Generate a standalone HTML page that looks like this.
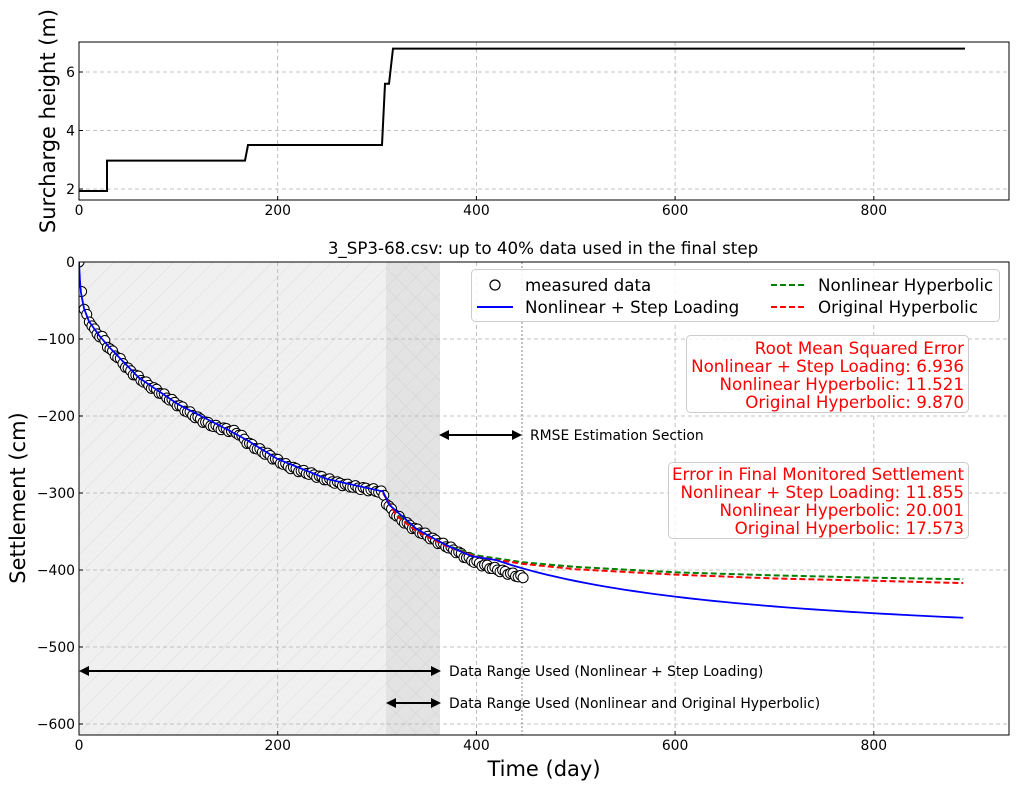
<!DOCTYPE html>
<html><head><meta charset="utf-8"><style>
html,body{margin:0;padding:0;background:#fff}
svg{display:block;font-family:"DejaVu Sans","Liberation Sans",sans-serif}
</style></head><body>
<svg id="s" width="1018" height="789" viewBox="0 0 1018 789" xmlns="http://www.w3.org/2000/svg">
<defs>
<pattern id="h1" width="14" height="14" patternUnits="userSpaceOnUse" patternTransform="rotate(45)">
<line x1="0" y1="0" x2="0" y2="14" stroke="#dcdcdc" stroke-width="1"/></pattern>
<pattern id="h2" width="14" height="14" patternUnits="userSpaceOnUse" patternTransform="rotate(45)">
<line x1="0" y1="0" x2="0" y2="14" stroke="#d2d2d2" stroke-width="1"/><line x1="0" y1="0" x2="14" y2="0" stroke="#d2d2d2" stroke-width="1"/></pattern>
<clipPath id="cb"><rect x="79" y="262" width="930" height="473"/></clipPath>
<clipPath id="ct"><rect x="79" y="42" width="930" height="158"/></clipPath>
</defs>
<g id="topgrid" stroke="#b0b0b0" stroke-dasharray="4,3" stroke-width="0.8"></g>
<polyline clip-path="url(#ct)" fill="none" stroke="#000" stroke-width="2" points="79,191 107,191 107,160.6 245,160.6 248,145 382,145 385,83.7 389,83.7 393,48.6 965,48.6"/>
<rect x="79" y="42" width="930" height="158" fill="none" stroke="#000" stroke-width="1"/>
<text x="0" y="0" transform="translate(55,121) rotate(-90)" text-anchor="middle" font-size="21">Surcharge height (m)</text>
<rect x="79" y="262" width="307" height="473" fill="#f0f0f0"/>
<rect x="79" y="262" width="307" height="473" fill="url(#h1)"/>
<rect x="386" y="262" width="54" height="473" fill="#e3e3e3"/>
<rect x="386" y="262" width="54" height="473" fill="url(#h2)"/>
<g id="botgrid" stroke="#b0b0b0" stroke-dasharray="4,3" stroke-width="0.8"></g>
<line x1="522" y1="262" x2="522" y2="735" stroke="#999" stroke-dasharray="2,2" stroke-width="1.2"/>
<g id="series" clip-path="url(#cb)"></g>
<rect x="79" y="262" width="930" height="473" fill="none" stroke="#000" stroke-width="1"/>
<text x="543" y="254" text-anchor="middle" font-size="16.7">3_SP3-68.csv: up to 40% data used in the final step</text>
<text x="0" y="0" transform="translate(25,498) rotate(-90)" text-anchor="middle" font-size="21">Settlement (cm)</text>
<text x="544" y="776" text-anchor="middle" font-size="21">Time (day)</text>
<rect x="471.5" y="269.5" width="528" height="52" rx="4" fill="#fff" fill-opacity="0.85" stroke="#ccc"/>
<circle cx="495" cy="285" r="5" fill="none" stroke="#000" stroke-width="1.2"/>
<text x="525" y="291" font-size="16.7">measured data</text>
<line x1="477" y1="307" x2="513" y2="307" stroke="#00f" stroke-width="2"/>
<text x="525" y="313" font-size="16.7">Nonlinear + Step Loading</text>
<line x1="771" y1="285" x2="807" y2="285" stroke="green" stroke-width="2" stroke-dasharray="6,3"/>
<text x="818" y="291" font-size="16.7">Nonlinear Hyperbolic</text>
<line x1="771" y1="307" x2="807" y2="307" stroke="red" stroke-width="2" stroke-dasharray="6,3"/>
<text x="818" y="313" font-size="16.7">Original Hyperbolic</text>
<rect x="686.5" y="335.5" width="282" height="77" rx="4" fill="#fff" fill-opacity="0.8" stroke="#ccc"/>
<g fill="red" font-size="16.7" text-anchor="end">
<text x="964" y="354">Root Mean Squared Error</text>
<text x="964" y="372">Nonlinear + Step Loading: 6.936</text>
<text x="964" y="390">Nonlinear Hyperbolic: 11.521</text>
<text x="964" y="408">Original Hyperbolic: 9.870</text>
</g>
<rect x="668.5" y="462.5" width="300" height="76" rx="4" fill="#fff" fill-opacity="0.8" stroke="#ccc"/>
<g fill="red" font-size="16.7" text-anchor="end">
<text x="964" y="480">Error in Final Monitored Settlement</text>
<text x="964" y="498">Nonlinear + Step Loading: 11.855</text>
<text x="964" y="516">Nonlinear Hyperbolic: 20.001</text>
<text x="964" y="534">Original Hyperbolic: 17.573</text>
</g>
<g stroke="#000" stroke-width="2" fill="#000">
<line x1="448" y1="435" x2="514" y2="435"/>
<polygon points="439,435 449,430 449,440" stroke="none"/><polygon points="522,435 512,430 512,440" stroke="none"/>
<line x1="88" y1="671" x2="432" y2="671"/>
<polygon points="79,671 89,666 89,676" stroke="none"/><polygon points="441,671 431,666 431,676" stroke="none"/>
<line x1="395" y1="703" x2="432" y2="703"/>
<polygon points="386,703 396,698 396,708" stroke="none"/><polygon points="441,703 431,698 431,708" stroke="none"/>
</g>
<g font-size="13.9">
<text x="530" y="440">RMSE Estimation Section</text>
<text x="449" y="676">Data Range Used (Nonlinear + Step Loading)</text>
<text x="449" y="708">Data Range Used (Nonlinear and Original Hyperbolic)</text>
</g>
<g id="ticks" font-size="13.9"></g>
</svg>
<script>
var NS="http://www.w3.org/2000/svg";
function el(p,t,a,txt){var e=document.createElementNS(NS,t);for(var k in a)e.setAttribute(k,a[k]);if(txt!==undefined)e.textContent=txt;document.getElementById(p).appendChild(e);return e;}
function X(d){return 79+d*0.9935;}
function Yb(c){return 262-c*0.77;}
function Yt(v){return 189-(v-2)*29.25;}
[0,200,400,600,800].forEach(function(d){
 var x=X(d);
 if(d>0){el("topgrid","line",{x1:x,y1:42,x2:x,y2:200});el("botgrid","line",{x1:x,y1:262,x2:x,y2:735});}
 el("ticks","line",{x1:x,y1:200,x2:x,y2:196,stroke:"#000"});
 el("ticks","line",{x1:x,y1:735,x2:x,y2:731,stroke:"#000"});
 el("ticks","text",{x:x,y:215,"text-anchor":"middle"},""+d);
 el("ticks","text",{x:x,y:750,"text-anchor":"middle"},""+d);
});
[2,4,6].forEach(function(v){var y=Yt(v);
 el("topgrid","line",{x1:79,y1:y,x2:1009,y2:y});
 el("ticks","line",{x1:79,y1:y,x2:83,y2:y,stroke:"#000"});
 el("ticks","text",{x:75,y:y+5,"text-anchor":"end"},""+v);});
[0,-100,-200,-300,-400,-500,-600].forEach(function(c){var y=Yb(c);
 if(c<0)el("botgrid","line",{x1:79,y1:y,x2:1009,y2:y});
 el("ticks","line",{x1:79,y1:y,x2:83,y2:y,stroke:"#000"});
 el("ticks","text",{x:75,y:y+5,"text-anchor":"end"},c==0?"0":"\u2212"+(-c));});
var P=[[0,0],[3,-42],[5,-62],[10,-75],[15,-88],[20,-95],[25,-100],[30,-112],[40,-125],[50,-140],[60,-150],[70,-160],[80,-168],[90,-177],[100,-186],[110,-195],[120,-203],[130,-210],[140,-215],[150,-218],[160,-222],[170,-235],[180,-243],[190,-250],[200,-258],[210,-265],[220,-270],[240,-278],[260,-287],[280,-293],[300,-297],[306,-300],[310,-315],[320,-330],[330,-340],[340,-348],[350,-355],[360,-363],[370,-369],[380,-376],[390,-384],[400,-390],[410,-395],[420,-399],[430,-403],[440,-407],[447,-410]];
function interp(A,d){for(var i=1;i<A.length;i++){if(d<=A[i][0]){var a=A[i-1],b=A[i];return a[1]+(b[1]-a[1])*(d-a[0])/(b[0]-a[0]);}}return A[A.length-1][1];}
for(var d=0;d<=447;d+=2.6){var y=interp(P,d)+(Math.sin(d*1.7)*2);
 el("series","circle",{cx:X(d),cy:Yb(y),r:5,fill:"#fff",stroke:"#000","stroke-width":1});}
el("series","circle",{cx:X(447),cy:Yb(-410),r:5,fill:"#fff",stroke:"#000","stroke-width":1});
var G=[[306,-300],[320,-328],[340,-348],[370,-368],[400,-381],[447,-390],[500,-396],[600,-403],[700,-407],[800,-410],[890,-412]];
var R=[[306,-300],[320,-330],[340,-350],[370,-369],[400,-383],[447,-392],[500,-399],[600,-406],[700,-411],[800,-414],[890,-417]];
function pp(A){return A.map(function(p){return X(p[0])+","+Yb(p[1]);}).join(" ");}
var B=[[0,0],[1,-25],[2,-40],[5,-60],[10,-77],[20,-95],[30,-110],[60,-150],[100,-185],[150,-218],[170,-232],[200,-256],[250,-282],[306,-298],[312,-315],[340,-347],[370,-368],[395,-382]];
for(var t=420;t<=890;t+=10){var s=t-306;B.push([t,-298-s/(0.725+0.004856*s)]);}
el("series","polyline",{points:pp(G),fill:"none",stroke:"green","stroke-width":2,"stroke-dasharray":"6,3"});
el("series","polyline",{points:pp(R),fill:"none",stroke:"red","stroke-width":2,"stroke-dasharray":"6,3"});
el("series","polyline",{points:pp(B),fill:"none",stroke:"#00f","stroke-width":1.8});
</script>
</body></html>
